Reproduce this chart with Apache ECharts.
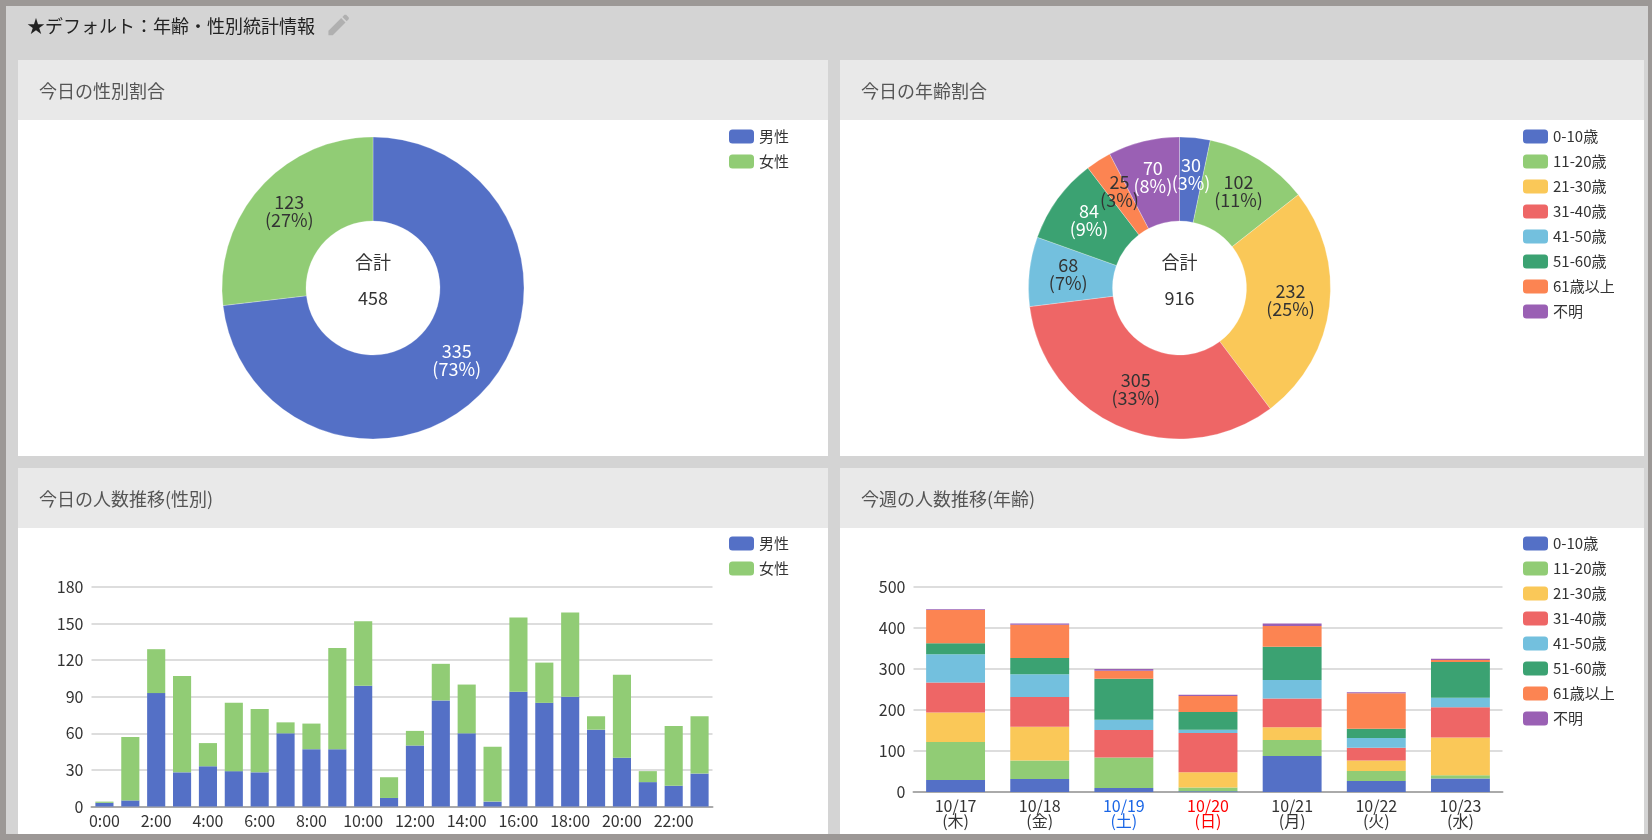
<!DOCTYPE html>
<html><head><meta charset="utf-8">
<style>html,body{margin:0;padding:0;background:#d4d4d4}#c{width:1652px;height:840px}</style>
<script src="https://cdn.jsdelivr.net/npm/echarts@6/dist/echarts.min.js"></script>
</head><body><div id="c"></div>
<script>
const genderNames = ['男性','女性'];
const genderToday = [335,123];
const genderTotal = '458';
const ageNames = ['0-10歳','11-20歳','21-30歳','31-40歳','41-50歳','51-60歳','61歳以上','不明'];
const ageToday = [30,102,232,305,68,84,25,70];
const ageTotal = '916';
const hours = ['0:00','1:00','2:00','3:00','4:00','5:00','6:00','7:00','8:00','9:00','10:00','11:00','12:00','13:00','14:00','15:00','16:00','17:00','18:00','19:00','20:00','21:00','22:00','23:00'];
const hourlyMale = [3,5,93,28,33,29,28,60,47,47,99,7,50,87,60,4,94,85,90,63,40,20,17,27];
const hourlyFemale = [1,52,36,79,19,56,52,9,21,83,53,17,12,30,40,45,61,33,69,11,68,9,49,47];
const days = ['10/17\n(木)','10/18\n(金)','10/19\n(土)','10/20\n(日)','10/21\n(月)','10/22\n(火)','10/23\n(水)'];
const age0 = [29,32,10,2,88,27,33];
const age1 = [93,45,74,9,39,24,8];
const age2 = [72,82,0,37,31,26,92];
const age3 = [73,73,67,96,70,31,74];
const age4 = [69,55,25,8,45,24,23];
const age5 = [27,40,100,43,81,22,87];
const age6 = [81,81,20,39,51,87,5];
const age7 = [2,3,4,3,6,2,3];
const weekly = [age0,age1,age2,age3,age4,age5,age6,age7];
const colors = ['#5470c6','#91cc75','#fac858','#ee6666','#73c0de','#3ba272','#fc8452','#9a60b4'];
const pageTitle = '★デフォルト：年齢・性別統計情報';
const panelTitles = ['今日の性別割合','今日の年齢割合','今日の人数推移(性別)','今週の人数推移(年齢)'];
const lightLabelAge = [true,false,false,false,false,true,false,true];

const FONT = '"Noto Sans CJK JP","Noto Sans",sans-serif';
const TXT = '#333';
const panels = [[18,60,810,396],[840,60,804,396],[18,468,810,366],[840,468,804,366]];

const g = [];
const rect = (x,y,w,h,fill,z)=>g.push({type:'rect',silent:true,z:z||0,shape:{x,y,width:w,height:h},style:{fill}});
rect(0,0,1652,840,'#9c9896',0);
rect(6,6,1642,828,'#d4d4d4',0);
panels.forEach((p,i)=>{
  rect(p[0],p[1],p[2],p[3],'#ffffff',0);
  rect(p[0],p[1],p[2],60,'#e9e9e9',0);
  g.push({type:'text',silent:true,z:1,x:p[0]+21,y:p[1]+31,style:{text:panelTitles[i],font:'18px '+FONT,fill:'#555',verticalAlign:'middle'}});
});
g.push({type:'text',silent:true,z:1,x:27,y:26,style:{text:pageTitle,font:'18px '+FONT,fill:'#222',verticalAlign:'middle'}});
[[[3,17.25],[3,21],[6.75,21],[17.81,9.94],[14.06,6.19]],[[15.13,5.12],[16.96,3.29],[18.37,3.29],[20.71,5.63],[20.71,7.04],[18.88,8.87]]].forEach(pts=>{
  g.push({type:'polygon',silent:true,z:1,x:325,y:11,scaleX:1.15,scaleY:1.15,shape:{points:pts},style:{fill:'#b0b0b0'}});
});
[[373,[genderTotal]],[1179.5,[ageTotal]]].forEach(([x,t])=>{
  g.push({type:'text',silent:true,z:20,x,y:262,style:{text:'合計',font:'18px '+FONT,fill:TXT,align:'center',verticalAlign:'middle'}});
  g.push({type:'text',silent:true,z:20,x,y:298,style:{text:t[0],font:'18px '+FONT,fill:TXT,align:'center',verticalAlign:'middle'}});
});

const legend = (names,left,top)=>({data:names,orient:'vertical',left,top,itemWidth:25,itemHeight:14,itemGap:10,
  textStyle:{fontFamily:FONT,fontSize:15,color:TXT},selectedMode:false});
const pieLabel = (total)=>({show:true,position:'inside',
  formatter:p=>p.value+'\n('+Math.round(p.value/total*100)+'%)',fontFamily:FONT,fontSize:18,lineHeight:18});
const sum = a=>a.reduce((s,v)=>s+v,0);
const pie = (name,values,names,cx,light)=>({type:'pie',name,center:[cx,288],radius:[67,151],startAngle:90,
  silent:true,animation:false,avoidLabelOverlap:false,label:pieLabel(sum(values)),labelLine:{show:false},
  labelLayout:{hideOverlap:false,dy:-2},
  itemStyle:{borderColor:'rgba(255,255,255,0.5)',borderWidth:0.5},
  data:values.map((v,i)=>({value:v,name:names[i],itemStyle:{color:colors[i]},label:{color:light[i]?'#fff':TXT}}))});

const dayColor = {'10/19':'#1a66e6','10/20':'#ff0000'};
const cartesian = (gi)=>({
  x:{gridIndex:gi,type:'category',axisLine:{lineStyle:{color:'#aaa',width:2}},axisTick:{alignWithLabel:false,interval:gi===0?1:0,lineStyle:{color:'#aaa'}},
     axisLabel:{fontFamily:FONT,fontSize:16,color:TXT,interval:gi===0?1:0,margin:gi===0?7:6,lineHeight:15}},
  y:{gridIndex:gi,type:'value',min:0,axisLine:{show:false},axisTick:{show:false},
     splitLine:{lineStyle:{color:'#ddd',width:2}},axisLabel:{fontFamily:FONT,fontSize:16,color:TXT,margin:8}}
});
const c0 = cartesian(0), c1 = cartesian(1);
c0.x.data = hours; c0.y.max = 180; c0.y.interval = 30;
c1.x.data = days; c1.y.max = 500; c1.y.interval = 100;
c1.x.axisLabel.formatter = v=>{
  const k = v.split('\n')[0];
  const s = k==='10/19'?'sat':k==='10/20'?'sun':'';
  return s ? v.split('\n').map(t=>'{'+s+'|'+t+'}').join('\n') : v;
};
c1.x.axisLabel.rich = {sat:{color:dayColor['10/19'],fontFamily:FONT,fontSize:16,lineHeight:15},sun:{color:dayColor['10/20'],fontFamily:FONT,fontSize:16,lineHeight:15}};

const option = {
  animation:false,
  graphic:{elements:g},
  legend:[legend(genderNames,724,124),legend(ageNames,1518,124),legend(genderNames,724,531),legend(ageNames,1518,531)],
  grid:[{left:91.5,top:587,width:621,height:219.5},{left:913.5,top:587,width:589,height:205}],
  xAxis:[c0.x,c1.x],yAxis:[c0.y,c1.y],
  series:[
    pie('今日の性別割合',genderToday,genderNames,373,[true,false]),
    pie('今日の年齢割合',ageToday,ageNames,1179.5,lightLabelAge),
    {type:'bar',name:genderNames[0],stack:'a',xAxisIndex:0,yAxisIndex:0,barWidth:'70%',data:hourlyMale,itemStyle:{color:colors[0]},silent:true},
    {type:'bar',name:genderNames[1],stack:'a',xAxisIndex:0,yAxisIndex:0,barWidth:'70%',data:hourlyFemale,itemStyle:{color:colors[1]},silent:true},
    ...weekly.map((d,i)=>({type:'bar',name:ageNames[i],stack:'b',xAxisIndex:1,yAxisIndex:1,barWidth:'70%',data:d,itemStyle:{color:colors[i]},silent:true}))
  ]
};
const chart = echarts.init(document.getElementById('c'),null,{renderer:'canvas'});
chart.setOption(option);
</script></body></html>
